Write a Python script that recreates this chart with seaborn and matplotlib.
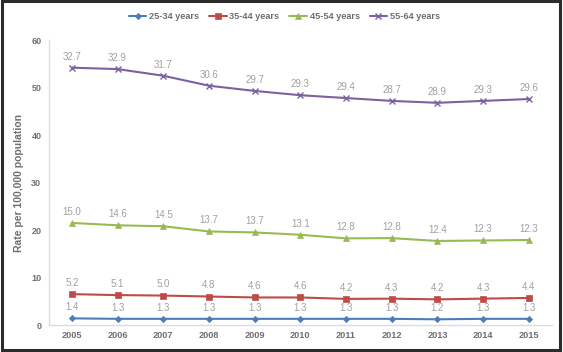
import matplotlib
matplotlib.use('Agg')
import matplotlib.pyplot as plt
import pandas as pd
import seaborn as sns
from matplotlib.patches import Rectangle

years = list(range(2005, 2016))
series_names = ['25-34 years', '35-44 years', '45-54 years', '55-64 years']

# plotted positions
plot_25_34 = [1.4, 1.3, 1.3, 1.3, 1.3, 1.3, 1.3, 1.3, 1.2, 1.3, 1.3]
plot_35_44 = [6.5, 6.3, 6.2, 6.0, 5.8, 5.8, 5.5, 5.55, 5.4, 5.55, 5.7]
plot_45_54 = [21.5, 21.0, 20.8, 19.7, 19.5, 19.0, 18.25, 18.3, 17.7, 17.8, 17.9]
plot_55_64 = [54.2, 53.9, 52.5, 50.4, 49.3, 48.4, 47.8, 47.2, 46.8, 47.2, 47.6]

# data labels printed on the chart
label_25_34 = [1.4, 1.3, 1.3, 1.3, 1.3, 1.3, 1.3, 1.3, 1.2, 1.3, 1.3]
label_35_44 = [5.2, 5.1, 5.0, 4.8, 4.6, 4.6, 4.2, 4.3, 4.2, 4.3, 4.4]
label_45_54 = [15.0, 14.6, 14.5, 13.7, 13.7, 13.1, 12.8, 12.8, 12.4, 12.3, 12.3]
label_55_64 = [32.7, 32.9, 31.7, 30.6, 29.7, 29.3, 29.4, 28.7, 28.9, 29.3, 29.6]

plot_values = [plot_25_34, plot_35_44, plot_45_54, plot_55_64]
label_values = [label_25_34, label_35_44, label_45_54, label_55_64]
colors = ['#4A7EBB', '#BE4B48', '#98B954', '#7D60A0']
markers = ['D', 's', '^', 'x']
msizes = [3.2, 4.8, 4.5, 4.5]

sns.set_style('white')
plt.rcParams['font.family'] = ['Liberation Sans', 'DejaVu Sans']

fig = plt.figure(figsize=(5.63, 3.52), dpi=100)
ax = fig.add_axes([0.087, 0.0767, 0.893, 0.8093])

for name, vals, labs, c, m, ms in zip(series_names, plot_values, label_values,
                                      colors, markers, msizes):
    df = pd.DataFrame({'Year': years, 'Rate': vals})
    sns.lineplot(data=df, x='Year', y='Rate', ax=ax, color=c, marker=m,
                 markersize=ms, linewidth=1.5, label=name,
                 markeredgecolor=c, markeredgewidth=1.0 if m == 'x' else 0.5)
    for x, y, t in zip(years, vals, labs):
        ax.annotate(f'{t:.1f}', (x, y), xytext=(0, 8), textcoords='offset points',
                    ha='center', va='center', fontsize=7, color='#a0a0a0')

ax.set_xlim(2004.5, 2015.5)
ax.set_ylim(0, 60)
ax.set_yticks(range(0, 61, 10))
ax.set_xticks(years)
ax.set_xticklabels([str(y) for y in years], fontsize=6.6,
                   fontweight='bold', color='#6f6f6f')
ax.set_yticklabels([str(v) for v in range(0, 61, 10)], fontsize=6.5,
                   fontweight='bold', color='#6f6f6f')
ax.tick_params(axis='x', length=0, pad=4.5)
ax.tick_params(axis='y', length=0, pad=5.5)
ax.set_xlabel('')
ax.set_ylabel('Rate per 100,000 population', fontsize=7.5, fontweight='bold',
              color='#6f6f6f', labelpad=5)

for s in ['top', 'right']:
    ax.spines[s].set_visible(False)
for s in ['left', 'bottom']:
    ax.spines[s].set_color('#dcdcdc')
    ax.spines[s].set_linewidth(1)

ax.legend(loc='center', bbox_to_anchor=(0.505, 0.953), bbox_transform=fig.transFigure,
          ncol=4, frameon=False, handlelength=1.9, columnspacing=1.1,
          handletextpad=0.3, prop={'weight': 'bold', 'size': 6.6},
          labelcolor='#6f6f6f')

fig.patches.append(Rectangle((0.004, 0.006), 0.99, 0.99, transform=fig.transFigure,
                             fill=False, edgecolor='#2b2b2b', linewidth=2.2))

plt.savefig('out.png', dpi=100)
plt.close()
